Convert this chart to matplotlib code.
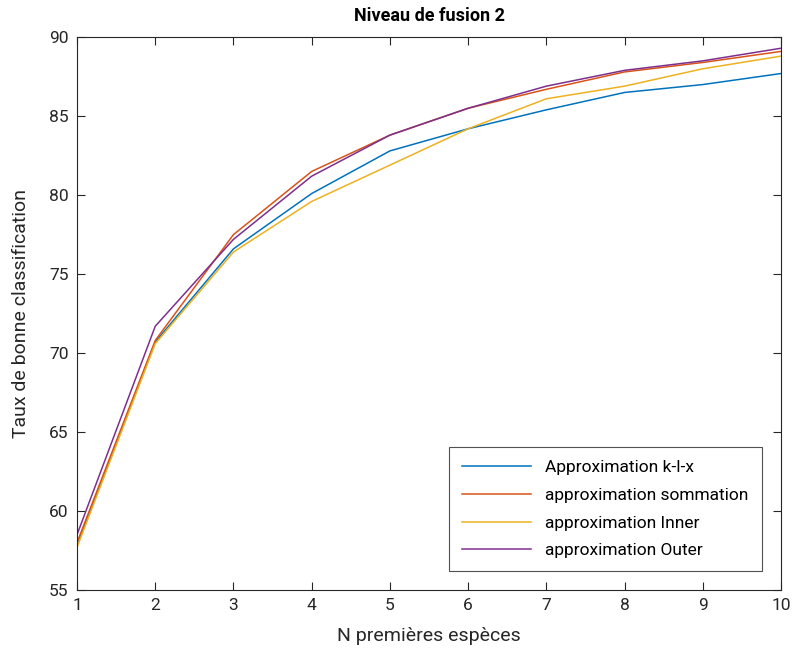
import matplotlib
matplotlib.use("Agg")
import matplotlib.pyplot as plt

plt.rcParams['font.family'] = ['Roboto', 'DejaVu Sans']

n_especes = [1, 2, 3, 4, 5, 6, 7, 8, 9, 10]
klx = [57.9, 70.7, 76.6, 80.1, 82.8, 84.2, 85.4, 86.5, 87.0, 87.7]
sommation = [58.0, 70.8, 77.5, 81.5, 83.8, 85.5, 86.7, 87.8, 88.4, 89.1]
inner = [57.7, 70.6, 76.4, 79.6, 81.9, 84.2, 86.1, 86.9, 88.0, 88.8]
outer = [58.5, 71.7, 77.2, 81.2, 83.8, 85.5, 86.9, 87.9, 88.5, 89.3]

labels = ['Approximation k-l-x', 'approximation sommation',
          'approximation Inner', 'approximation Outer']
colors = ['#0072BD', '#D95319', '#EDB120', '#7E2F8E']

fig = plt.figure(figsize=(7.94, 6.64), dpi=100)
ax = fig.add_axes([0.097, 0.1114, 0.8866, 0.8326])

for serie, lab, c in zip([klx, sommation, inner, outer], labels, colors):
    ax.plot(n_especes, serie, color=c, lw=1.1, label=lab)

ax.set_xlim(1, 10)
ax.set_ylim(55, 90)
ax.set_xticks(range(1, 11))
ax.set_yticks(range(55, 91, 5))
ax.tick_params(direction='in', top=True, right=True, length=6,
               labelsize=12.5, colors='#262626', pad=6)
for s in ax.spines.values():
    s.set_color('#262626')
    s.set_linewidth(0.8)

ax.set_title('Niveau de fusion 2', fontsize=13, fontweight='bold', pad=12)
ax.set_xlabel('N premières espèces', fontsize=14, color='#262626', labelpad=10)
ax.set_ylabel('Taux de bonne classification', fontsize=14, color='#262626',
              labelpad=14)

leg = ax.legend(loc='lower right', bbox_to_anchor=(0.985, 0.018),
                fontsize=12.5, frameon=True, fancybox=False,
                edgecolor='#262626', handlelength=4.0, borderpad=0.75,
                labelspacing=0.72, handletextpad=0.8)
leg.get_frame().set_linewidth(0.8)

fig.savefig('out.png', dpi=100)
